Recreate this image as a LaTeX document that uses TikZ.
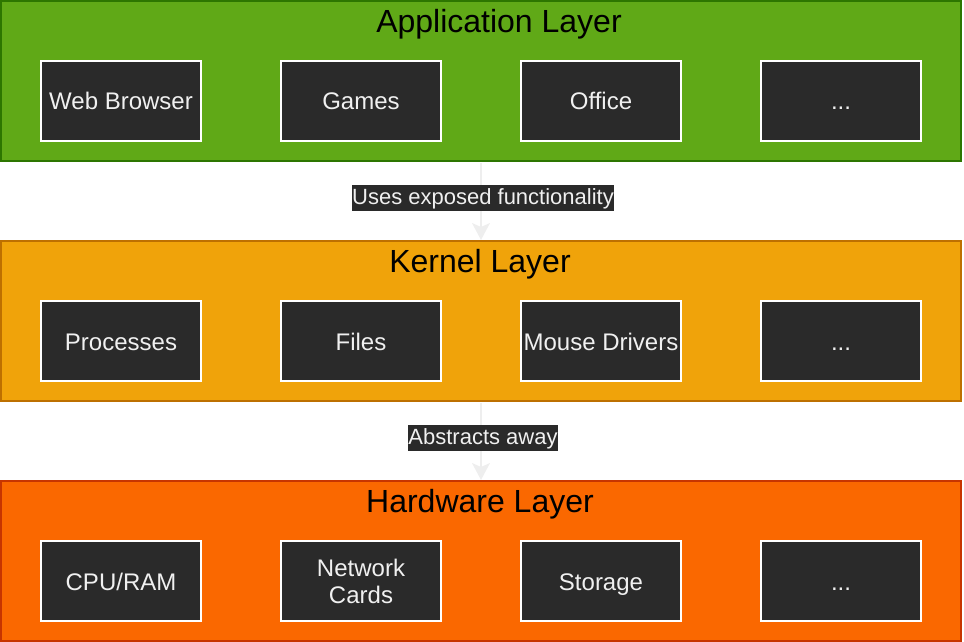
\documentclass[tikz,border=0pt]{standalone}
\usepackage{fontspec}
\setmainfont{Liberation Sans}
\usetikzlibrary{arrows.meta}
\definecolor{appfill}{HTML}{60A917}
\definecolor{appline}{HTML}{2D7600}
\definecolor{kerfill}{HTML}{F0A30A}
\definecolor{kerline}{HTML}{BD7000}
\definecolor{hwfill}{HTML}{FA6800}
\definecolor{hwline}{HTML}{C73500}
\definecolor{boxfill}{HTML}{2A2A2A}
\definecolor{boxtext}{HTML}{F0F0F0}
\definecolor{arrowcol}{HTML}{EEEEEE}
\begin{document}
\begin{tikzpicture}[x=1pt,y=-1pt,
  layer/.style={draw=#1, line width=2pt, minimum width=960pt, minimum height=160pt, inner sep=0pt},
  comp/.style={draw=white, line width=2pt, fill=boxfill, text=boxtext,
    minimum width=160pt, minimum height=80pt, inner sep=0pt, align=center,
    text height=21pt, text depth=3pt,
    font=\fontsize{24}{27}\selectfont},
  twoline/.style={text height=48pt},
  layertitle/.style={anchor=base, inner sep=0pt, font=\fontsize{32}{36}\selectfont},
  flow/.style={draw=arrowcol, line width=1.5pt, -{Stealth[width=18pt,length=17pt,inset=4pt]}},
  flowlabel/.style={fill=boxfill, text=boxtext, inner xsep=0.5pt, inner ysep=0pt,
    text height=20pt, text depth=6pt, yshift=4pt, xshift=2pt,
    font=\fontsize{22}{24}\selectfont}]
\useasboundingbox (0,0) rectangle (964,642);
% layers
\node[layer=appline, fill=appfill] (app) at (481,81) {};
\node[layer=kerline, fill=kerfill] (ker) at (481,321) {};
\node[layer=hwline, fill=hwfill] (hw) at (481,561) {};
\node[layertitle] (appt) at (499,33) {Application Layer};
\node[layertitle] (kert) at (480,272) {Kernel Layer};
\node[layertitle] (hwt) at (480,512) {Hardware Layer};
% application components
\node[comp] (a1) at (121,101) {Web Browser};
\node[comp] (a2) at (361,101) {Games};
\node[comp] (a3) at (601,101) {Office};
\node[comp] (a4) at (841,101) {...};
% kernel components
\node[comp] (k1) at (121,341) {Processes};
\node[comp] (k2) at (361,341) {Files};
\node[comp] (k3) at (601,341) {Mouse Drivers};
\node[comp] (k4) at (841,341) {...};
% hardware components
\node[comp] (h1) at (121,581) {CPU/RAM};
\node[comp, twoline] (h2) at (361,581) {Network\\Cards};
\node[comp] (h3) at (601,581) {Storage};
\node[comp] (h4) at (841,581) {...};
% connectors
\draw[flow] ([yshift=-1pt]app.south) -- (ker.north) node[midway, flowlabel] (l1) {Uses exposed functionality};
\draw[flow] ([yshift=-1pt]ker.south) -- (hw.north) node[midway, flowlabel] (l2) {Abstracts away};
\end{tikzpicture}
\end{document}
